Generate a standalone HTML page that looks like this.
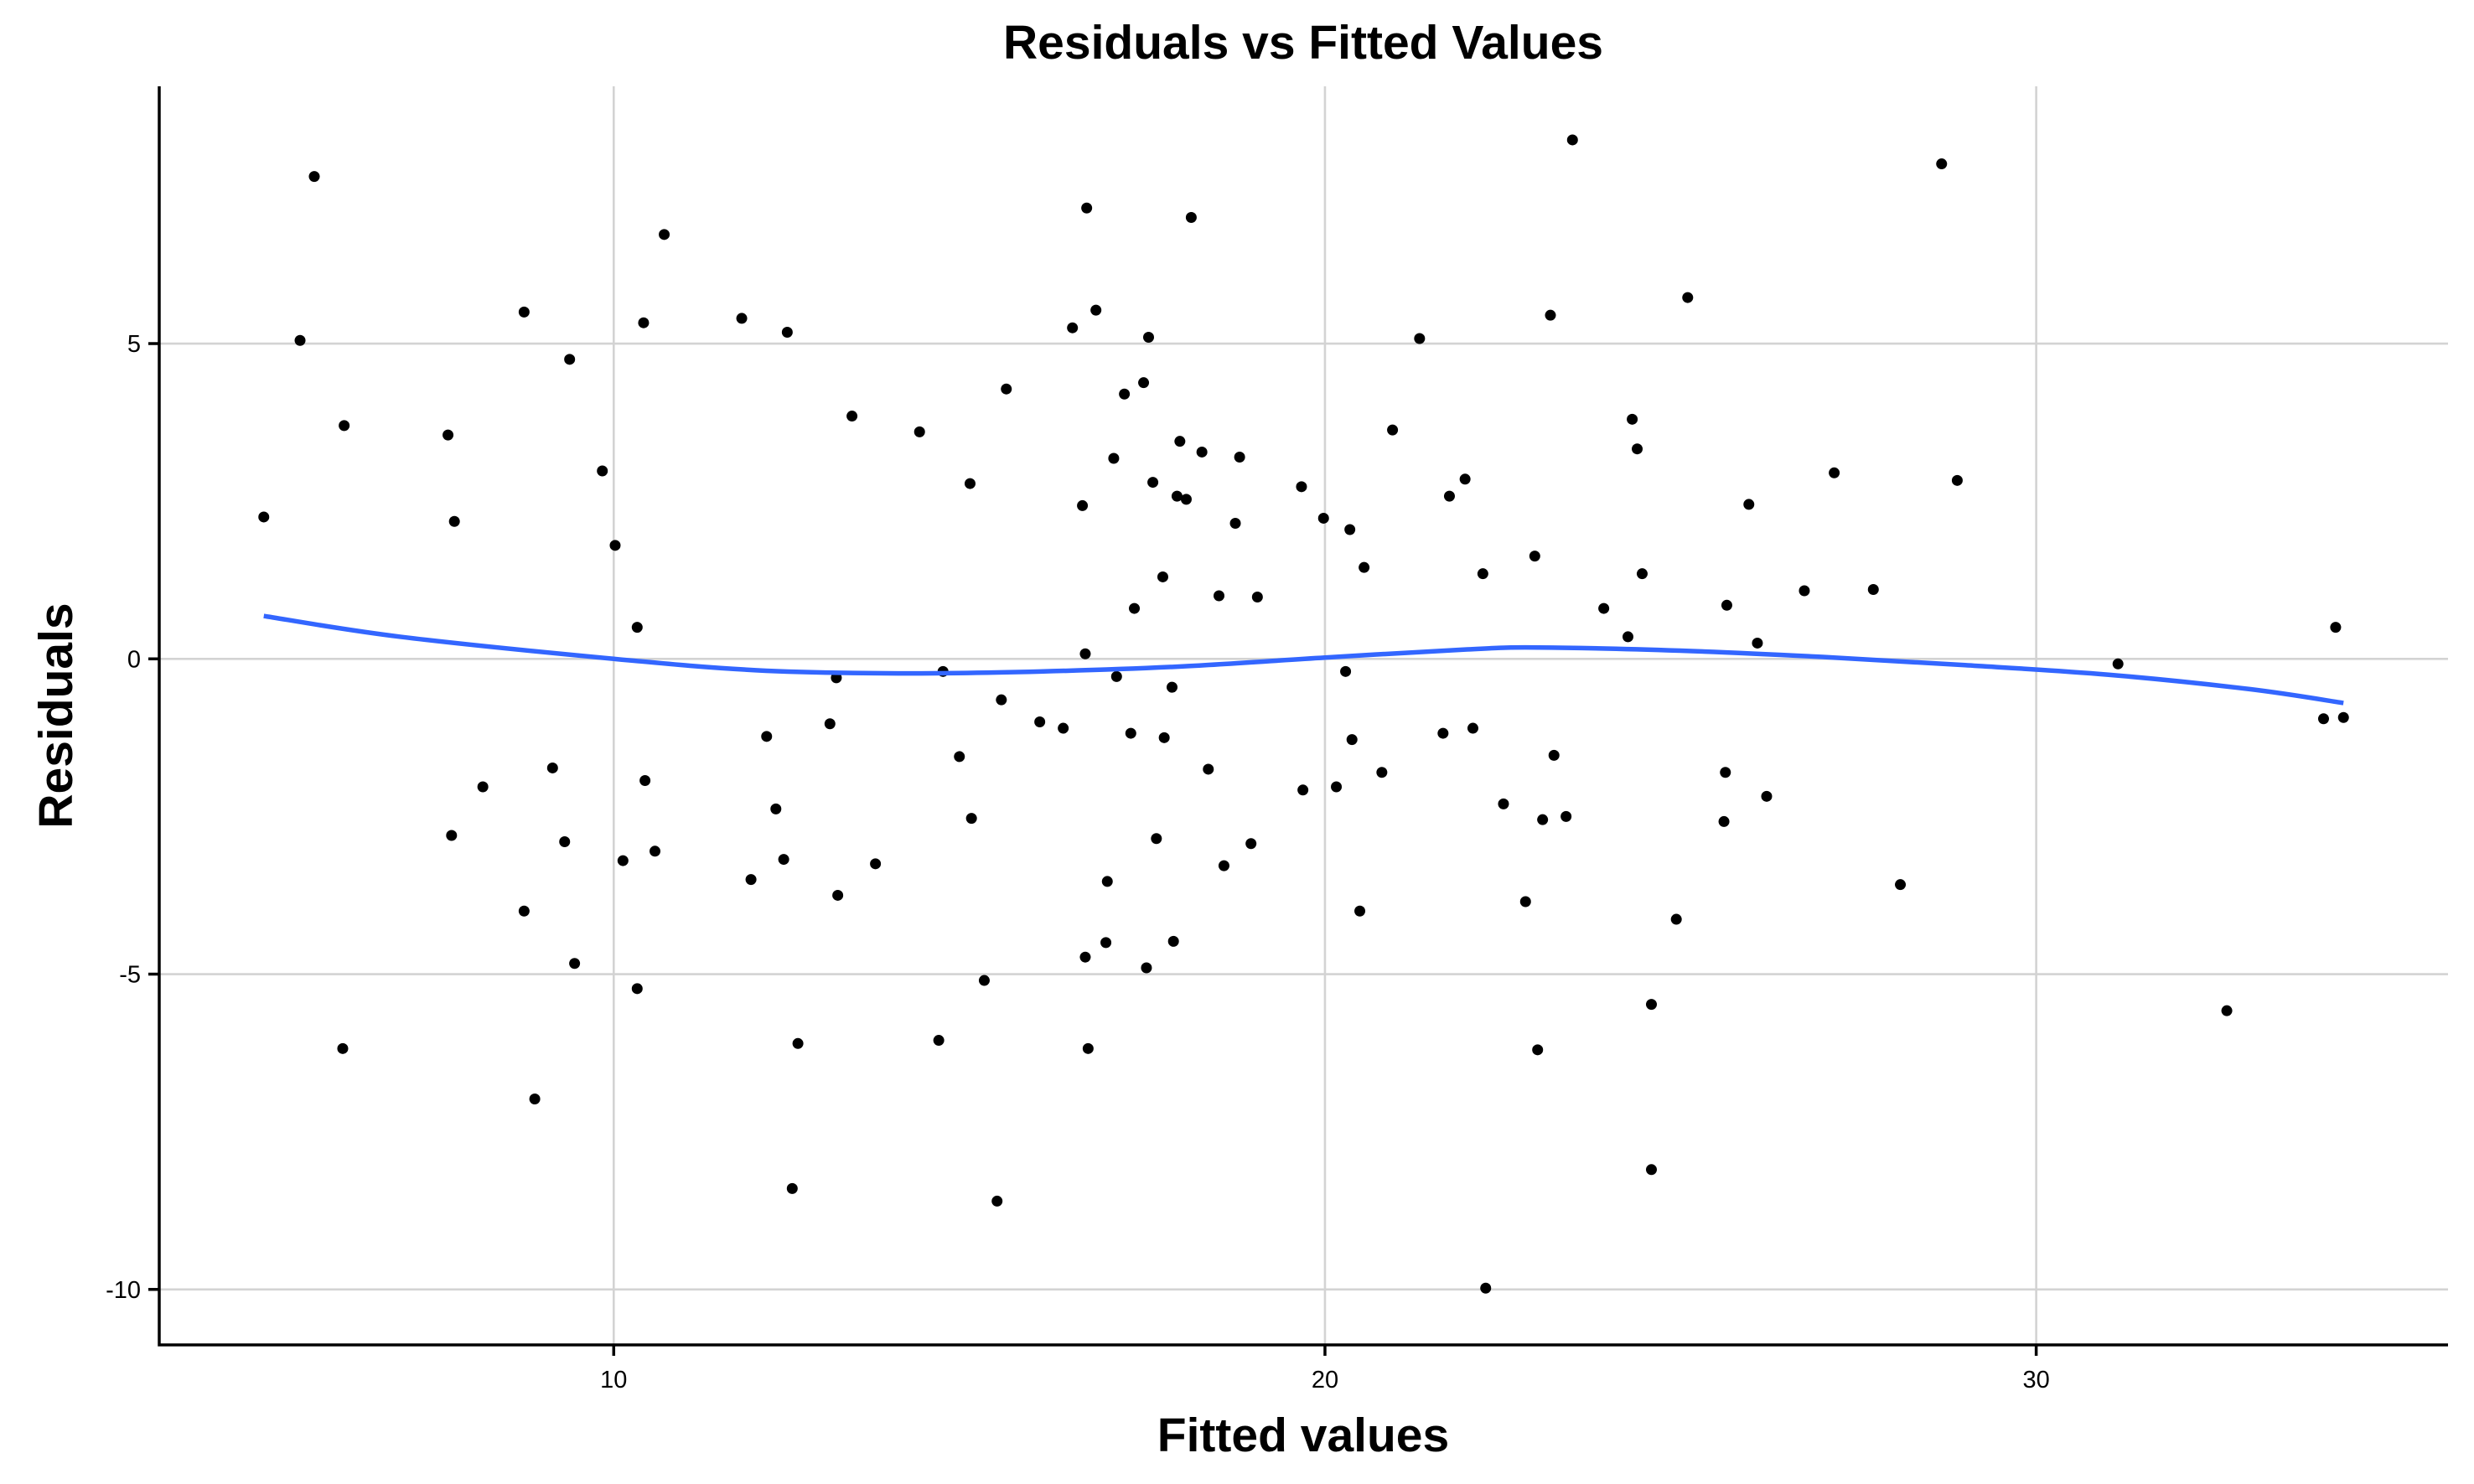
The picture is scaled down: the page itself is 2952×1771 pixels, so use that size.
<!DOCTYPE html>
<html><head><meta charset="utf-8"><style>
html,body{margin:0;padding:0;background:#fff;}
svg{display:block;font-family:"Liberation Sans",Arial,sans-serif;}
</style></head><body>
<svg id="chart" width="2952" height="1771" viewBox="0 0 2952 1771" xmlns="http://www.w3.org/2000/svg">
<rect width="2952" height="1771" fill="#fff"/>
<g id="grid"></g>
<g id="pts"></g>
<g id="smooth"></g>
<g id="axes"></g>
<text x="1555" y="70" font-size="57" font-weight="bold" text-anchor="middle">Residuals vs Fitted Values</text>
<text x="1555" y="1732" font-size="57" font-weight="bold" text-anchor="middle">Fitted values</text>
<text transform="translate(86,854) rotate(-90)" font-size="57" font-weight="bold" text-anchor="middle">Residuals</text>
</svg>
<script>
const fitted = [5.08,5.59,5.79,6.21,6.19,7.67,7.76,7.72,8.16,8.74,8.74,8.89,9.14,9.31,9.38,9.45,9.84,10.02,10.13,10.33,10.33,10.42,10.44,10.58,10.71,11.8,11.93,12.15,12.28,12.39,12.44,12.51,12.59,13.04,13.13,13.15,13.35,13.68,14.3,14.57,14.63,14.86,15.01,15.03,15.21,15.39,15.45,15.52,15.99,16.32,16.45,16.59,16.63,16.65,16.63,16.67,16.78,16.92,16.94,17.03,17.07,17.18,17.27,17.32,17.45,17.49,17.52,17.58,17.63,17.72,17.74,17.85,17.87,17.92,17.96,18.05,18.12,18.27,18.36,18.51,18.58,18.74,18.8,18.96,19.05,19.67,19.69,19.98,20.16,20.29,20.35,20.38,20.49,20.55,20.8,20.95,21.33,21.66,21.75,21.97,22.08,22.22,22.26,22.51,22.82,22.95,22.99,23.06,23.17,23.22,23.39,23.48,23.92,24.26,24.32,24.39,24.46,24.59,24.59,24.94,25.1,25.63,25.61,25.65,25.96,26.08,26.21,26.74,27.16,27.71,28.09,28.67,28.89,31.15,32.68,34.04,34.21,34.32];
const residuals = [2.25,5.05,7.65,3.7,-6.18,3.55,2.18,-2.8,-2.03,5.5,-4.0,-6.98,-1.73,-2.9,4.75,-4.83,2.98,1.8,-3.2,0.5,-5.23,5.33,-1.93,-3.05,6.73,5.4,-3.5,-1.23,-2.38,-3.18,5.18,-8.4,-6.1,-1.03,-0.3,-3.75,3.85,-3.25,3.6,-6.05,-0.2,-1.55,2.78,-2.53,-5.1,-8.6,-0.65,4.28,-1.0,-1.1,5.25,2.43,0.08,7.15,-4.73,-6.18,5.53,-4.5,-3.53,3.18,-0.28,4.2,-1.18,0.8,4.38,-4.9,5.1,2.8,-2.85,1.3,-1.25,-0.45,-4.48,2.58,3.45,2.53,7.0,3.28,-1.75,1.0,-3.28,2.15,3.2,-2.93,0.98,2.73,-2.08,2.23,-2.03,-0.2,2.05,-1.28,-4.0,1.45,-1.8,3.63,5.08,-1.18,2.58,2.85,-1.1,1.35,-9.98,-2.3,-3.85,1.63,-6.2,-2.55,5.45,-1.53,-2.5,8.23,0.8,0.35,3.8,3.33,1.35,-5.48,-8.1,-4.13,5.73,-1.8,-2.58,0.85,2.45,0.25,-2.18,1.08,2.95,1.1,-3.58,7.85,2.83,-0.08,-5.58,-0.95,0.5,-0.93];
const smoothX = [5.08,7,10,12,14,16,18,20,22,23,25,27,29,31,33,34.32];
const smoothY = [0.68,0.35,0,-0.18,-0.23,-0.2,-0.12,0.02,0.15,0.18,0.13,0.03,-0.1,-0.25,-0.48,-0.7];
const xTicks = [10,20,30];
const yTicks = [5,0,-5,-10];
const yTickLabels = ["5","0","-5","-10"];

const L=190,R=2921,T=103,B=1605;
const xMin=3.61,xMax=35.79,yMin=-10.88,yMax=9.08;
const sx=v=>L+(v-xMin)/(xMax-xMin)*(R-L);
const sy=v=>B-(v-yMin)/(yMax-yMin)*(B-T);
const NS="http://www.w3.org/2000/svg";
function mk(tag,attrs,parent){const e=document.createElementNS(NS,tag);for(const k in attrs)e.setAttribute(k,attrs[k]);parent.appendChild(e);return e;}
const grid=document.getElementById('grid'),pts=document.getElementById('pts'),sm=document.getElementById('smooth'),axes=document.getElementById('axes');
xTicks.forEach(t=>{
  const g=mk('line',{x1:sx(t),x2:sx(t),y1:T,y2:B,stroke:'#d3d3d3','stroke-width':2.6},grid);
  
  
  const tk=mk('line',{x1:sx(t),x2:sx(t),y1:B,y2:B+13,stroke:'#000','stroke-width':3.5},axes);
  
  
  const tx=mk('text',{x:sx(t),y:B+51,'font-size':29,'text-anchor':'middle'},axes);
  tx.textContent=String(t);
  
  
});
yTicks.forEach((t,i)=>{
  const g=mk('line',{x1:L,x2:R,y1:sy(t),y2:sy(t),stroke:'#d3d3d3','stroke-width':2.6},grid);
  
  
  const tk=mk('line',{x1:L-13,x2:L,y1:sy(t),y2:sy(t),stroke:'#000','stroke-width':3.5},axes);
  
  
  const tx=mk('text',{x:L-22,y:sy(t)+10,'font-size':29,'text-anchor':'end'},axes);
  tx.textContent=yTickLabels[i];
  
  
});
const ax=mk('path',{d:`M${L},${T} L${L},${B} L${R},${B}`,fill:'none',stroke:'#000','stroke-width':3.5},axes);


fitted.forEach((x,i)=>{
  const c=mk('circle',{cx:sx(x),cy:sy(residuals[i]),r:6.5,fill:'#000'},pts);
  
  
});
const P=smoothX.map((x,i)=>[sx(x),sy(smoothY[i])]);
let d=`M${P[0][0]},${P[0][1]}`;
for(let i=0;i<P.length-1;i++){
  const p0=P[Math.max(0,i-1)],p1=P[i],p2=P[i+1],p3=P[Math.min(P.length-1,i+2)];
  d+=` C${p1[0]+(p2[0]-p0[0])/6},${p1[1]+(p2[1]-p0[1])/6} ${p2[0]-(p3[0]-p1[0])/6},${p2[1]-(p3[1]-p1[1])/6} ${p2[0]},${p2[1]}`;
}
const line=mk('path',{d:d,fill:'none',stroke:'#3366ff','stroke-width':5.5},sm);


</script>
</body></html>
